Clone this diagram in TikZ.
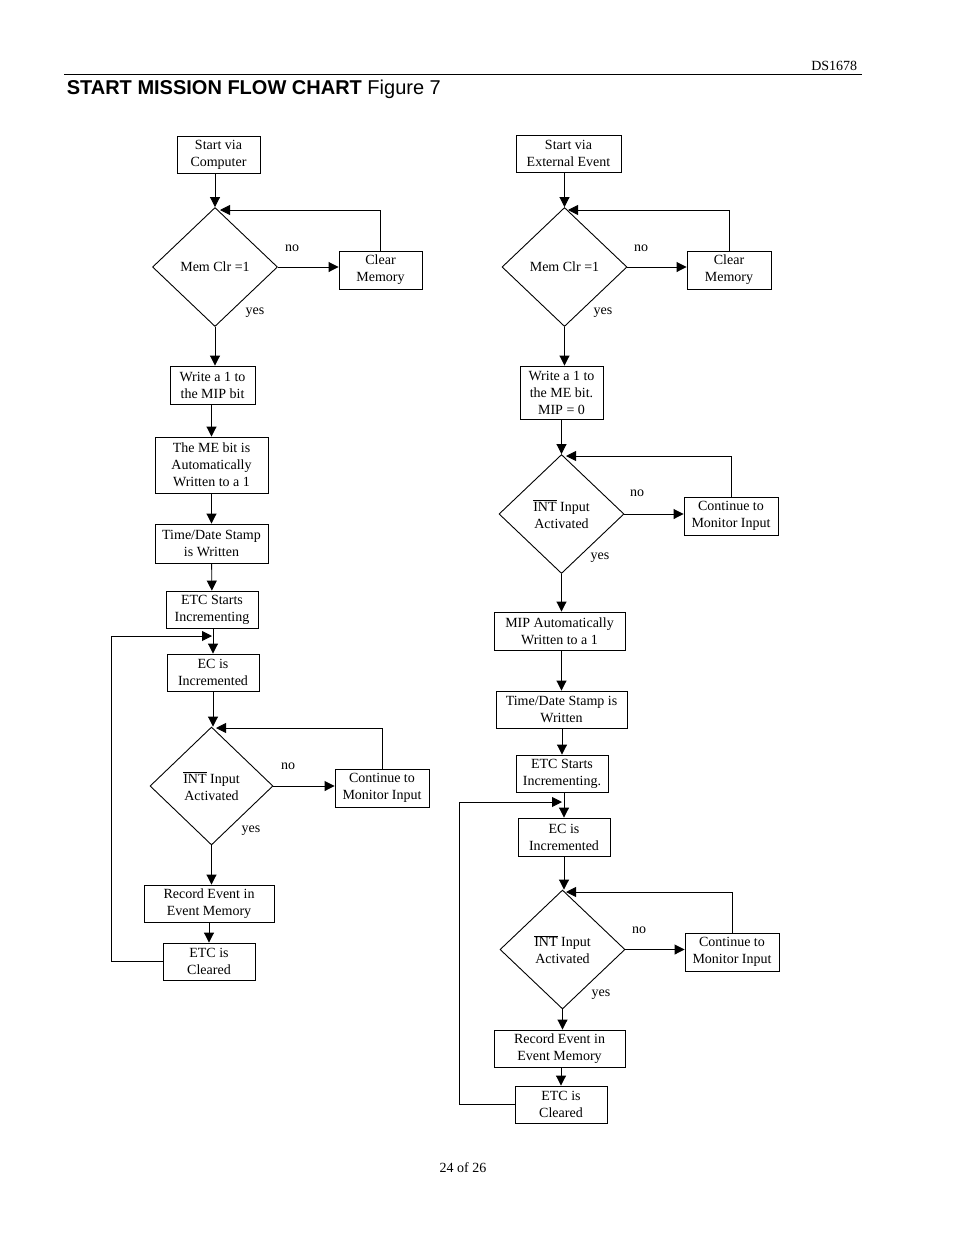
\documentclass[tikz,border=0pt]{standalone}
\usepackage{fontspec}
\setmainfont{Liberation Serif}
\newfontfamily\titlefont{Liberation Sans}
\usetikzlibrary{shapes.geometric,arrows.meta}
\begin{document}
\begin{tikzpicture}[x=1pt,y=-1pt,line width=0.9pt,
  box/.style={draw,align=center,inner sep=0,font=\fontsize{14}{17}\selectfont},
  dia/.style={draw,diamond,inner sep=0,minimum width=125,minimum height=119,align=center,font=\fontsize{14}{17}\selectfont},
  lbl/.style={font=\fontsize{14}{17}\selectfont},
  arr/.style={-{Triangle[length=10pt,width=10pt]}}]
\useasboundingbox (0,0) rectangle (954,1235);
\node[anchor=base east,font=\fontsize{14}{17}\selectfont] at (861,70) {DS1678};
\draw[line width=0.6pt] (64,74) -- (862,74);
\node[anchor=base west,font=\titlefont\fontsize{20}{24}\selectfont] at (63,94) {\textbf{START MISSION FLOW CHART} Figure 7};
\node[lbl] at (463,1168) {24 of 26};
\def\INT{$\overline{\hbox{INT}}$}
% left column
\node[box,minimum width=83,minimum height=37] (l1) at (218.5,154.5) {Start via\\Computer};
\node[dia] (l2) at (215,267) {Mem Clr =1};
\node[box,minimum width=83,minimum height=38] (l3) at (380.5,270) {Clear\\Memory};
\node[box,minimum width=85,minimum height=38] (l4) at (212.5,385) {Write a 1 to\\the MIP bit};
\node[box,minimum width=113,minimum height=56] (l5) at (211.5,465) {The ME bit is\\Automatically\\Written to a 1};
\node[box,minimum width=113,minimum height=39] (l6) at (211.5,543.5) {Time/Date Stamp\\is Written};
\node[box,minimum width=92,minimum height=37] (l7) at (212,609.5) {ETC Starts\\Incrementing};
\node[box,minimum width=92,minimum height=37] (l8) at (213,672.5) {EC is\\Incremented};
\node[dia,minimum width=123,minimum height=118] (l9) at (211.5,786) {\INT{} Input\\Activated};
\node[box,minimum width=94,minimum height=38] (l10) at (382,788) {Continue to\\Monitor Input};
\node[box,minimum width=130,minimum height=37] (l11) at (209,903.5) {Record Event in\\Event Memory};
\node[box,minimum width=92,minimum height=37] (l12) at (209,961.5) {ETC is\\Cleared};
\node[lbl] at (292,248) {no};
\node[lbl] at (255,313) {yes};
\node[lbl] at (288,766) {no};
\node[lbl] at (251,831) {yes};
\draw[arr] (l2.north |- l1.south) -- (l2.north);
\draw[arr] (l2.east) -- (l2.east -| l3.west);
\draw[arr] (l3.north) |- (220,210);
\draw[arr] (l2.south) -- (l4.north -| l2.south);
\draw[arr] (l5.north |- l4.south) -- (l5.north);
\draw[arr] (l5) -- (l6);
\draw[arr] (l6) -- (l7);
\draw[arr] (l8.north |- l7.south) -- (l8.north);
\draw[arr] (l8.south) -- (l9.north -| l8.south);
\draw[arr] (l9.east) -- (l9.east -| l10.west);
\draw[arr] (l10.north) |- (216,728);
\draw[arr] (l9.south) -- (l11.north -| l9.south);
\draw[arr] (l11) -- (l12);
\coordinate (lj) at (212,636);
\draw[arr] (l12.west) -| (111,636) -- (lj);
% right column
\node[box,minimum width=105,minimum height=37] (r1) at (568.5,153.5) {Start via\\External Event};
\node[dia] (r2) at (564.5,267) {Mem Clr =1};
\node[box,minimum width=84,minimum height=38] (r3) at (729,270) {Clear\\Memory};
\node[box,minimum width=83,minimum height=53] (r4) at (561.5,392.5) {Write a 1 to\\the ME bit.\\MIP = 0};
\node[dia] (r5) at (561.5,514) {\INT{} Input\\Activated};
\node[box,minimum width=94,minimum height=38] (r6) at (731,516) {Continue to\\Monitor Input};
\node[box,minimum width=131,minimum height=38] (r7) at (559.5,631) {MIP Automatically\\Written to a 1};
\node[box,minimum width=131,minimum height=37] (r8) at (561.5,709.5) {Time/Date Stamp is\\Written};
\node[box,minimum width=92,minimum height=37] (r9) at (562,773.5) {ETC Starts\\Incrementing.};
\node[box,minimum width=92,minimum height=38] (r10) at (564,837) {EC is\\Incremented};
\node[dia] (r11) at (562.5,949.5) {\INT{} Input\\Activated};
\node[box,minimum width=94,minimum height=38] (r12) at (732,952) {Continue to\\Monitor Input};
\node[box,minimum width=131,minimum height=37] (r13) at (559.5,1048.5) {Record Event in\\Event Memory};
\node[box,minimum width=92,minimum height=37] (r14) at (561,1104.5) {ETC is\\Cleared};
\node[lbl] at (641,248) {no};
\node[lbl] at (603,313) {yes};
\node[lbl] at (637,493) {no};
\node[lbl] at (600,558) {yes};
\node[lbl] at (639,930) {no};
\node[lbl] at (601,995) {yes};
\draw[arr] (r1.south -| r2.north) -- (r2.north);
\draw[arr] (r2.east) -- (r2.east -| r3.west);
\draw[arr] (r3.north) |- (568,210);
\draw[arr] (r2.south) -- (r4.north -| r2.south);
\draw[arr] (r4.south -| r5.north) -- (r5.north);
\draw[arr] (r5.east) -- (r5.east -| r6.west);
\draw[arr] (r6.north) |- (566,456);
\draw[arr] (r5.south) -- (r7.north -| r5.south);
\draw[arr] (r7.south -| r8.north) -- (r8.north);
\draw[arr] (r8.south -| r9.north) -- (r9.north);
\draw[arr] (r9.south -| r10.north) -- (r10.north);
\draw[arr] (r10.south) -- (r11.north -| r10.south);
\draw[arr] (r11.east) -- (r11.east -| r12.west);
\draw[arr] (r12.north) |- (566,892);
\draw[arr] (r11.south) -- (r13.north -| r11.south);
\draw[arr] (r13.south -| r14.north) -- (r14.north);
\coordinate (rj) at (562,802);
\draw[arr] (r14.west) -| (459,802) -- (rj);
\end{tikzpicture}
\end{document}
